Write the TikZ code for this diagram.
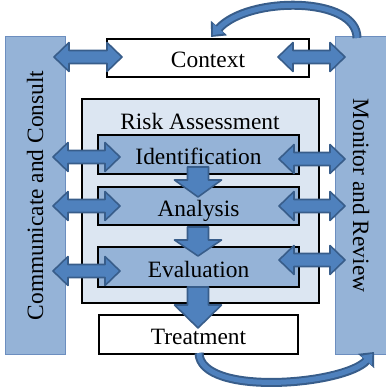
\documentclass[tikz,border=0pt]{standalone}
\usepackage{fontspec}
\setmainfont{Liberation Serif}
\usetikzlibrary{calc,arrows.meta}
\definecolor{barfill}{HTML}{95B3D7}
\definecolor{barline}{HTML}{6C8EBF}
\definecolor{rafill}{HTML}{DCE6F2}
\definecolor{arrfill}{HTML}{4F81BD}
\definecolor{arrline}{HTML}{385D8A}
\newcommand\hdbl[2]{%
  \draw[barrow] (#1) -- ++(15,-14.5) -- ++(0,8) -- ($(#2)+(-15,-6.5)$) -- ++(0,-8) -- (#2)
    -- ++(-15,14.5) -- ++(0,-8) -- ($(#1)+(15,6.5)$) -- ++(0,8) -- cycle;}
\newcommand\vdown[3]{%
  \draw[barrow] ($(#1)+(-10.5,0)$) -- ($(#2)+(-10.5,-#3)$) -- ($(#2)+(-23.5,-#3)$) -- (#2)
    -- ($(#2)+(23.5,-#3)$) -- ($(#2)+(10.5,-#3)$) -- ($(#1)+(10.5,0)$) -- cycle;}
\begin{document}
\begin{tikzpicture}[x=1pt,y=-1pt,
  font=\fontsize{23.4pt}{28pt}\selectfont,
  bar/.style={draw=barline, line width=1pt, fill=barfill, inner sep=0pt},
  box/.style={draw=black, line width=1.3pt, inner sep=0pt, text height=20pt, text depth=0pt},
  barrow/.style={draw=arrline, line width=1.6pt, fill=arrfill, line join=round},
  curveout/.style={draw=arrline, line width=9pt, -{Triangle[length=12pt,width=21pt]}},
  curvein/.style={draw=arrfill, line width=5pt, shorten >=2.5pt, -{Triangle[length=9pt,width=14pt]}},
]
\useasboundingbox (0,0) rectangle (385,390);
% side bars
\node[bar, rotate=90, minimum width=317pt, minimum height=60pt] (cc) at (35,195.5) {Communicate and Consult};
\node[bar, rotate=-90, minimum width=317pt, minimum height=52pt] (mr) at (361,195.5) {Monitor and Review};
% boxes
\node[box, fill=white, minimum width=202pt, minimum height=38pt] (ctx) at (208,58) {Context};
\node[draw=black, line width=1.3pt, fill=rafill, inner sep=0pt, minimum width=237pt, minimum height=204pt] (ra) at (200.5,201) {};
\node[anchor=base, inner sep=0pt] (ratitle) at (200,130) {Risk Assessment};
\node[box, fill=barfill, minimum width=201pt, minimum height=39pt] (id) at (198.5,154.5) {Identification};
\node[box, fill=barfill, minimum width=201pt, minimum height=38pt] (an) at (198.5,206) {Analysis};
\node[box, fill=barfill, minimum width=201pt, minimum height=40pt] (ev) at (198.5,267) {Evaluation};
\node[box, fill=white, minimum width=199pt, minimum height=39pt] (tr) at (198.5,334.5) {Treatment};
% arrow end points
\coordinate (l1a) at (54,57);  \coordinate (l1b) at (122,57);
\coordinate (l2a) at (53,157); \coordinate (l2b) at (120,157);
\coordinate (l3a) at (53,206); \coordinate (l3b) at (120,206);
\coordinate (l4a) at (53,271); \coordinate (l4b) at (120,271);
\coordinate (r1a) at (278,57);  \coordinate (r1b) at (345,57);
\coordinate (r2a) at (279,159); \coordinate (r2b) at (345,159);
\coordinate (r3a) at (279,206); \coordinate (r3b) at (345,206);
\coordinate (r4a) at (279,260); \coordinate (r4b) at (345,260);
\hdbl{l1a}{l1b}\hdbl{l2a}{l2b}\hdbl{l3a}{l3b}\hdbl{l4a}{l4b}
\hdbl{r1a}{r1b}\hdbl{r2a}{r2b}\hdbl{r3a}{r3b}\hdbl{r4a}{r4b}
% down arrows
\coordinate (d1a) at (198,167); \coordinate (d1b) at (198,197);
\coordinate (d2a) at (198,227); \coordinate (d2b) at (198,256);
\coordinate (d3a) at (198,287); \coordinate (d3b) at (198,328);
\vdown{d1a}{d1b}{17}\vdown{d2a}{d2b}{16}\vdown{d3a}{d3b}{23}
% curved arrows
\coordinate (ts) at (357,38); \coordinate (te) at (211,37);
\coordinate (bs) at (199,353); \coordinate (be) at (374,352);
\draw[curveout] (ts) .. controls (357,-4) and (248,-4) .. (te);
\draw[curvein] (ts) .. controls (357,-4) and (248,-4) .. (te);
\draw[curveout] (bs) .. controls (200,397) and (345,385) .. (be);
\draw[curvein] (bs) .. controls (200,397) and (345,385) .. (be);
\end{tikzpicture}
\end{document}
